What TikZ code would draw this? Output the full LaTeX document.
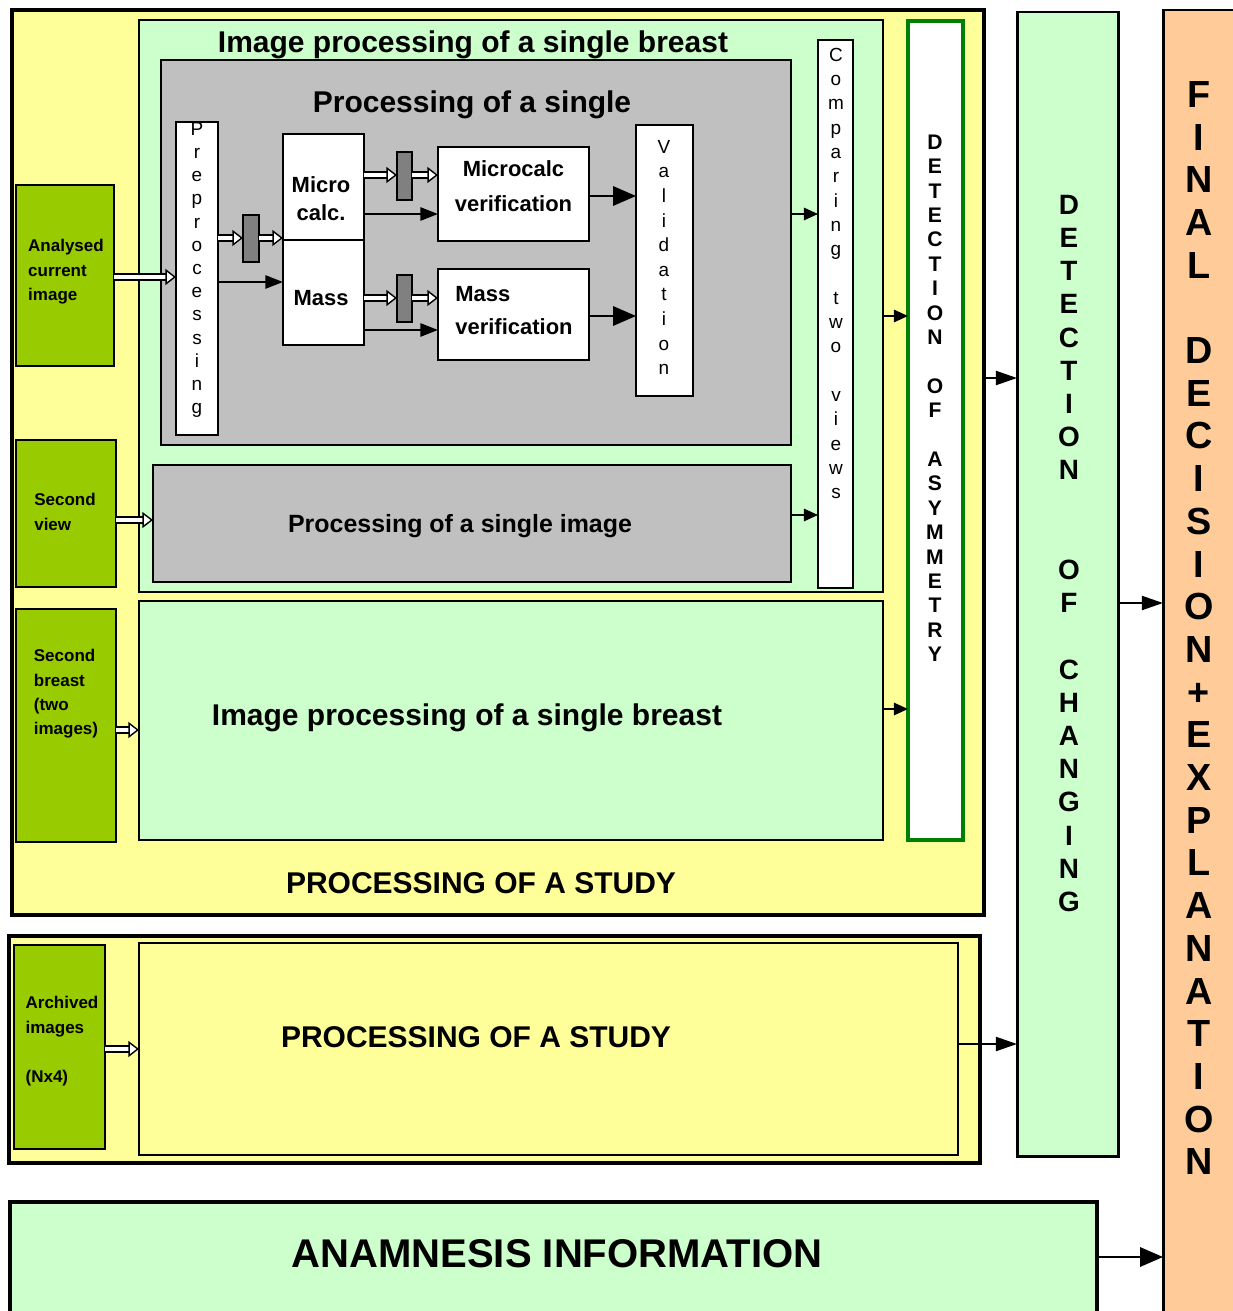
\documentclass[tikz,border=0pt]{standalone}
\usepackage{fontspec}
\setmainfont{Liberation Sans}
\usetikzlibrary{arrows.meta,fit}

\definecolor{studyyellow}{HTML}{FFFF99}
\definecolor{palegreen}{HTML}{CCFFCC}
\definecolor{boxgray}{HTML}{C0C0C0}
\definecolor{gategray}{HTML}{808080}
\definecolor{inputgreen}{HTML}{99CC00}
\definecolor{peach}{HTML}{FFCC99}
\definecolor{asymgreen}{HTML}{008000}

\tikzset{
  area/.style={draw, inner sep=0pt, outer sep=0pt, line width=1pt},
  frame/.style={area, line width=2pt},
  inbox/.style={area, fill=inputgreen, line width=1.4pt},
  gate/.style={area, fill=gategray, line width=0.8pt},
  whitebox/.style={area, fill=white},
  title/.style={font=\bfseries\fontsize{17.07}{20}\selectfont},
  smalltitle/.style={font=\bfseries\fontsize{14.2}{17}\selectfont},
  bigtitle/.style={font=\bfseries\fontsize{22.8}{26}\selectfont},
  boxtext/.style={font=\bfseries\fontsize{12.5}{19.9}\selectfont, align=left},
  intext/.style={font=\bfseries\fontsize{9.67}{13.9}\selectfont, align=left},
  vletter/.style={inner sep=0pt, text height=0.72em, text depth=0pt, font=\fontsize{10.8}{12}\selectfont},
  vbold/.style={vletter, font=\bfseries\fontsize{12}{14}\selectfont},
  hollow/.style={double=white, double distance=2.4pt, line width=0.8pt,
    -{Triangle[length=6pt, width=9pt, fill=white, line width=0.8pt]}},
  arr/.style={line width=1.1pt, -{Triangle[length=10pt,width=7.5pt]}},
  colarr/.style={line width=1.1pt, -{Triangle[length=12pt,width=8pt]}},
  bigarr/.style={line width=1.1pt, -{Triangle[length=13pt,width=11pt]}},
  smallarr/.style={line width=1.1pt, -{Triangle[length=8pt,width=7pt]}},
}

\begin{document}
\begin{tikzpicture}[x=0.02cm, y=-0.02cm]
\useasboundingbox (0,0) rectangle (1233,1311);

% processing of a study
\node[frame, fill=studyyellow, fit={(12,10) (984,915)}] (study) {};
\node[title] (studylbl) at (481,883) {PROCESSING OF A STUDY};

% first breast
\node[area, fill=palegreen, fit={(139,20) (883,592)}] (breast) {};
\node[title] (breastlbl) at (473,45) {Image processing of a single breast};
\node[area, fill=boxgray, fit={(161,60) (791,445)}] (single) {};
\node[title] (singlelbl) at (472,105) {Processing of a single};

\node[whitebox, fit={(176,122) (218,435)}] (prep) {};
\foreach \ch [count=\i from 0] in {P,r,e,p,r,o,c,e,s,s,i,n,g}
  \node[vletter] (prep-\i) at (197,{129+23.2*\i}) {\ch};

\node[gate, fit={(243,215) (259,262)}] (gate1) {};
\node[whitebox, fit={(283,134) (364,240)}] (micro) {};
\node[boxtext, align=center, font=\bfseries\fontsize{12.5}{15.9}\selectfont] (microlbl) at (321,199) {Micro\\calc.};
\node[whitebox, fit={(283,240) (364,345)}] (mass) {};
\node[boxtext] (masslbl) at (321,298) {Mass};
\node[gate, fit={(397,152) (412,200)}] (gate2) {};
\node[gate, fit={(397,275) (412,322)}] (gate3) {};
\node[whitebox, boxtext, fit={(438,147) (589,241)}] (microver) {Microcalc\\verification};
\node[whitebox, fit={(438,269) (589,360)}] (massver) {};
\node[boxtext, font=\bfseries\fontsize{12.5}{18.8}\selectfont] (massverlbl) at (514,311) {Mass\\verification};

\node[whitebox, fit={(636,125) (693,396)}] (valid) {};
\foreach \ch [count=\i from 0] in {V,a,l,i,d,a,t,i,o,n}
  \node[vletter] (valid-\i) at (664,{147+24.6*\i}) {\ch};

\node[area, fill=boxgray, fit={(153,465) (791,582)}] (singleimg) {};
\node[smalltitle] (singleimglbl) at (460,526) {Processing of a single image};

\node[whitebox, fit={(818,40) (853,588)}] (compare) {};
\foreach \ch [count=\i from 0] in {C,o,m,p,a,r,i,n,g,{},t,w,o,{},v,i,e,w,s}
  \node[vletter] (compare-\i) at (836,{55+24.3*\i}) {\ch};

% second breast
\node[area, fill=palegreen, fit={(139,601) (883,840)}] (breasttwo) {};
\node[title] (breasttwolbl) at (467,718) {Image processing of a single breast};

\node[area, draw=asymgreen, line width=1.8pt, fill=white, fit={(908,21) (963,840)}] (asym) {};
\foreach \ch [count=\i from 0] in {D,E,T,E,C,T,I,O,N,{},O,F,{},A,S,Y,M,M,E,T,R,Y}
  \node[vbold] (asym-\i) at (935,{143+24.4*\i}) {\ch};

% inputs
\node[inbox, fit={(16,185) (114,366)}] (ana) {};
\node[intext] (analbl) at (66,272) {Analysed\\current\\image};
\node[inbox, fit={(16,440) (116,587)}] (secview) {};
\node[intext] (secviewlbl) at (65,512) {Second\\view};
\node[inbox, fit={(16,609) (116,842)}] (secbreast) {};
\node[intext] (secbreastlbl) at (66,694) {Second\\breast\\(two\\images)};

% archived study
\node[frame, fill=studyyellow, fit={(9,936) (980,1163)}] (studytwo) {};
\node[area, fill=studyyellow, fit={(139,943) (958,1155)}] (studytwoin) {};
\node[title] (studytwolbl) at (476,1037) {PROCESSING OF A STUDY};
\node[inbox, fit={(14,945) (105,1149)}] (archive) {};
\node[intext] (archivelbl) at (62,1041) {Archived\\images\\[13.9pt](Nx4)};

% right columns
\node[area, line width=1.7pt, fill=palegreen, fit={(1017,12) (1118,1156)}] (change) {};
\foreach \ch [count=\i from 0] in {D,E,T,E,C,T,I,O,N,{},{},O,F,{},C,H,A,N,G,I,N,G}
  \node[vbold, font=\bfseries\fontsize{15.9}{18}\selectfont] (change-\i) at (1069,{208+33.2*\i}) {\ch};

\node[area, line width=1.7pt, fill=peach, fit={(1163,10) (1250,1330)}] (final) {};
\foreach \ch [count=\i from 0] in {F,I,N,A,L,{},D,E,C,I,S,I,O,N,+,E,X,P,L,A,N,A,T,I,O,N}
  \node[vbold, font=\bfseries\fontsize{21.5}{24}\selectfont] (final-\i) at (1199,{101+42.7*\i}) {\ch};

\node[frame, fill=palegreen, fit={(10,1202) (1097,1330)}] (anam) {};
\node[bigtitle] (anamlbl) at (557,1254) {ANAMNESIS INFORMATION};

% connectors
\draw[hollow] (ana.east |- 0,277) -- (prep.west |- 0,277);
\draw[hollow] (prep.east |- 0,238) -- (gate1.west |- 0,238);
\draw[hollow] (gate1.east |- 0,238) -- (micro.west |- 0,238);
\draw[arr] (prep.east |- 0,282) -- (mass.west |- 0,282);
\draw[hollow] (micro.east |- 0,175) -- (gate2.west |- 0,175);
\draw[hollow] (gate2.east |- 0,175) -- (microver.west |- 0,175);
\draw[arr] (micro.east |- 0,214) -- (microver.west |- 0,214);
\draw[hollow] (mass.east |- 0,298) -- (gate3.west |- 0,298);
\draw[hollow] (gate3.east |- 0,298) -- (massver.west |- 0,298);
\draw[arr] (mass.east |- 0,330) -- (massver.west |- 0,330);
\draw[bigarr] (microver.east |- 0,196) -- (valid.west |- 0,196);
\draw[bigarr] (massver.east |- 0,316) -- (valid.west |- 0,316);
\draw[smallarr] (single.east |- 0,214) -- (compare.west |- 0,214);
\draw[smallarr] (singleimg.east |- 0,515) -- (compare.west |- 0,515);
\draw[hollow] (secview.east |- 0,520) -- (singleimg.west |- 0,520);
\draw[smallarr] (breast.east |- 0,316) -- (asym.west |- 0,316);
\draw[hollow] (secbreast.east |- 0,730) -- (breasttwo.west |- 0,730);
\draw[smallarr] (breasttwo.east |- 0,709) -- (asym.west |- 0,709);
\draw[hollow] (archive.east |- 0,1049) -- (studytwoin.west |- 0,1049);
\draw[colarr] (study.east |- 0,378) -- (change.west |- 0,378);
\draw[colarr] (studytwoin.east |- 0,1044) -- (change.west |- 0,1044);
\draw[colarr] (change.east |- 0,603) -- (final.west |- 0,603);
\draw[bigarr] (anam.east |- 0,1257) -- (final.west |- 0,1257);
\end{tikzpicture}
\end{document}
